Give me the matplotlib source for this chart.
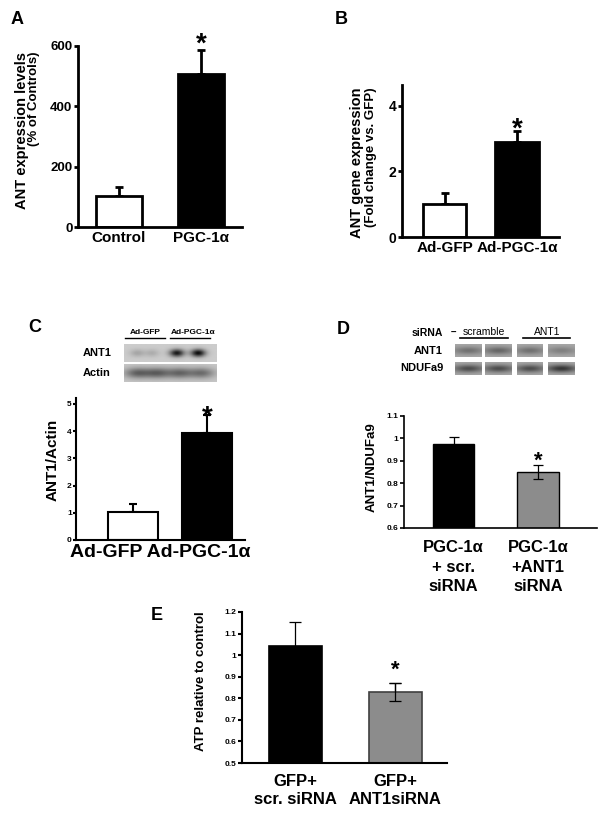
import numpy as np
import matplotlib
matplotlib.use('Agg')
import matplotlib.pyplot as plt

plt.rcParams['font.family'] = ['Liberation Sans', 'DejaVu Sans']
plt.rcParams['font.weight'] = 'bold'

W, H = 602, 816

# A: ANT expression, % of controls
a_cats = ['Control', 'PGC-1α']
a_vals = [103, 507]
a_err = [30, 80]

# B: ANT gene expression, fold change vs GFP
b_cats = ['Ad-GFP', 'Ad-PGC-1α']
b_vals = [1.01, 2.9]
b_err = [0.33, 0.34]

# C: ANT1/Actin densitometry
c_cats = ['Ad-GFP', 'Ad-PGC-1α']
c_vals = [1.03, 3.93]
c_err = [0.29, 0.67]
c_ant1_bands = [0.15, 0.12, 0.70, 0.75]
c_actin_bands = [0.38, 0.38, 0.36, 0.34]

# D: ANT1/NDUFa9 after siRNA
d_cats = ['PGC-1α\n+ scr.\nsiRNA', 'PGC-1α\n+ANT1\nsiRNA']
d_vals = [0.975, 0.85]
d_err = [0.031, 0.031]
d_ant1_bands = [0.22, 0.26, 0.22, 0.16]
d_ndufa9_bands = [0.36, 0.36, 0.36, 0.45]

# E: ATP relative to control
e_cats = ['GFP+\nscr. siRNA', 'GFP+\nANT1siRNA']
e_vals = [1.042, 0.829]
e_err = [0.11, 0.042]

fig = plt.figure(figsize=(W / 100, H / 100), dpi=100)


def px_axes(x0, y0, x1, y1):
    return fig.add_axes([x0 / W, 1 - y1 / H, (x1 - x0) / W, (y1 - y0) / H])


def style(ax, lw, ylim, yticks, tfs, tlen, xfs, xlim, cats, ytl=None, xpad=3, ls=1.25):
    ax.set_xlim(*xlim)
    ax.set_ylim(*ylim)
    for s in ['top', 'right']:
        ax.spines[s].set_visible(False)
    for s in ['left', 'bottom']:
        ax.spines[s].set_linewidth(lw)
    ax.set_yticks(yticks)
    if ytl is not None:
        ax.set_yticklabels(ytl)
    ax.tick_params(axis='y', length=tlen, width=lw, labelsize=tfs, pad=1)
    ax.set_xticks(range(len(cats)))
    ax.set_xticklabels(cats, fontsize=xfs, fontweight='bold', linespacing=ls)
    ax.tick_params(axis='x', length=0, pad=xpad)
    ax.patch.set_alpha(0)


# ---- A
axA = px_axes(78, 46, 242, 227)
axA.bar(range(2), a_vals, width=0.57, color=['white', 'black'], edgecolor='black', linewidth=2, zorder=2)
axA.errorbar(range(2), a_vals, yerr=[[0, 0], a_err], fmt='none', ecolor='black', elinewidth=2, capsize=3, capthick=2, zorder=1)
style(axA, 2, (0, 600), [0, 200, 400, 600], 9.5, 3, 11, (-0.5, 1.5), a_cats)
axA.annotate('*', (1, a_vals[1] + a_err[1]), xytext=(0, -1), textcoords='offset points',
             ha='center', va='baseline', fontsize=20, annotation_clip=False)

# ---- B
axB = px_axes(402, 85, 559, 237)
axB.bar(range(2), b_vals, width=0.6, color=['white', 'black'], edgecolor='black', linewidth=2, zorder=2)
axB.errorbar(range(2), b_vals, yerr=[[0, 0], b_err], fmt='none', ecolor='black', elinewidth=2, capsize=3, capthick=2, zorder=1)
style(axB, 2, (0, 4.64), [0, 2, 4], 10, 3, 11, (-0.59, 1.58), b_cats)
axB.annotate('*', (1, b_vals[1] + b_err[1]), xytext=(0, -4), textcoords='offset points',
             ha='center', va='baseline', fontsize=20, annotation_clip=False)

# ---- C
axC = px_axes(76, 398, 245, 540)
axC.bar(range(2), c_vals, width=0.68, color=['white', 'black'], edgecolor='black', linewidth=1.5, zorder=2)
axC.errorbar(range(2), c_vals, yerr=[[0, 0], c_err], fmt='none', ecolor='black', elinewidth=1.5, capsize=3, capthick=1.5, zorder=1)
style(axC, 1.5, (0, 5.22), [0, 1, 2, 3, 4, 5], 6, 2, 14, (-0.78, 1.52), ['', ''])
axC.set_xlabel(' '.join(c_cats), fontsize=14, fontweight='bold', labelpad=0)
axC.annotate('*', (1, c_vals[1] + c_err[1]), xytext=(0, -7), textcoords='offset points',
             ha='center', va='baseline', fontsize=20, annotation_clip=False)

# ---- D
axD = px_axes(404, 416, 597, 528)
axD.bar(range(2), d_vals, width=0.49, color=['black', '#8c8c8c'], edgecolor='black', linewidth=1, zorder=2)
axD.errorbar(range(2), d_vals, yerr=d_err, fmt='none', ecolor='black', elinewidth=0.9, capsize=3.5, capthick=0.9, zorder=3)
style(axD, 1.2, (0.6, 1.1), [0.6, 0.7, 0.8, 0.9, 1.0, 1.1], 6, 3, 12, (-0.59, 1.70), d_cats,
      ytl=['0.6', '0.7', '0.8', '0.9', '1', '1.1'], xpad=9, ls=1.35)
axD.annotate('*', (1, d_vals[1] + d_err[1]), xytext=(0, -1), textcoords='offset points',
             ha='center', va='baseline', fontsize=16, annotation_clip=False)

# ---- E
axE = px_axes(242, 612, 447, 763)
axE.bar(range(2), e_vals, width=0.53, color=['black', '#8c8c8c'], edgecolor=['black', '#404040'], linewidth=1.2, zorder=2)
axE.errorbar(range(2), e_vals, yerr=e_err, fmt='none', ecolor='black', elinewidth=0.9, capsize=4, capthick=0.9, zorder=1)
axE.errorbar([1], [e_vals[1]], yerr=[e_err[1]], fmt='none', ecolor='black', elinewidth=0.9, capsize=4, capthick=0.9, zorder=3)
style(axE, 1.5, (0.5, 1.2), [0.5, 0.6, 0.7, 0.8, 0.9, 1.0, 1.1, 1.2], 6, 3, 12, (-0.53, 1.52), e_cats,
      ytl=['0.5', '0.6', '0.7', '0.8', '0.9', '1', '1.1', '1.2'], xpad=8, ls=1.2)
axE.annotate('*', (1, e_vals[1] + e_err[1]), xytext=(0, 5), textcoords='offset points',
             ha='center', va='baseline', fontsize=16, annotation_clip=False)

# ---- overlay for panel letters, axis titles and blots
ov = fig.add_axes([0, 0, 1, 1])
ov.set_axis_off()


def blot(x0, x1, y0, y1, centers, strengths, bg, sx, sy):
    xs = np.linspace(0, 1, 120)
    ys = np.linspace(0, 1, 30)
    X, Y = np.meshgrid(xs, ys)
    img = np.full(X.shape, bg)
    for c, s in zip(centers, strengths):
        img -= s * np.exp(-((X - c) / sx) ** 2 - ((Y - 0.5) / sy) ** 2)
    ov.imshow(img, cmap='gray', vmin=0, vmax=1, extent=(x0, x1, y1, y0), aspect='auto', interpolation='bilinear')


# C blot
blot(124, 217, 344, 362, [0.14, 0.30, 0.57, 0.80], c_ant1_bands, 0.80, 0.08, 0.22)
blot(124, 217, 364, 382, [0.14, 0.36, 0.60, 0.84], c_actin_bands, 0.78, 0.14, 0.3)
# D blots, one box per lane
d_lanes = [(455, 482), (485, 512), (517, 543), (548, 575)]
for (x0, x1), s1, s2 in zip(d_lanes, d_ant1_bands, d_ndufa9_bands):
    blot(x0, x1, 344, 357, [0.5], [s1], 0.66, 0.6, 0.3)
    blot(x0, x1, 362, 375, [0.5], [s2], 0.66, 0.6, 0.3)

ov.set_xlim(0, W)
ov.set_ylim(H, 0)

letter = dict(fontsize=13, fontweight='bold', ha='center', va='center')
ov.text(17, 19, 'A', **letter)
ov.text(341, 19, 'B', **letter)
ov.text(35, 328, 'C', **letter)
ov.text(343, 329, 'D', **letter)
ov.text(157, 615, 'E', **letter)

rot = dict(rotation=90, fontweight='bold', ha='center', va='top')
ov.text(22, 52, 'ANT expression levels', fontsize=10.5, **rot)
ov.text(34, 52, '(% of Controls)', fontsize=9.5, **rot)
ov.text(357, 87, 'ANT gene expression', fontsize=10.5, **rot)
ov.text(371, 87, '(Fold change vs. GFP)', fontsize=9.5, **rot)
ov.text(53, 460, 'ANT1/Actin', fontsize=11, rotation=90, fontweight='bold', ha='center', va='center')
ov.text(372, 467, 'ANT1/NDUFa9', fontsize=9.5, rotation=90, fontweight='bold', ha='center', va='center')
ov.text(201, 681, 'ATP relative to control', fontsize=9.5, rotation=90, fontweight='bold', ha='center', va='center')

# C blot labels
small = dict(fontsize=6, fontweight='bold', ha='center', va='center')
ov.text(145, 332, 'Ad-GFP', **small)
ov.text(193, 332, 'Ad-PGC-1α', **small)
ov.plot([125, 165], [338, 338], color='black', lw=1)
ov.plot([170, 210], [338, 338], color='black', lw=1)
ov.text(97, 353, 'ANT1', fontsize=8, fontweight='bold', ha='center', va='center')
ov.text(97, 373, 'Actin', fontsize=8, fontweight='bold', ha='center', va='center')

# D blot labels
ov.text(427, 333, 'siRNA', fontsize=7.5, fontweight='bold', ha='center', va='center')
ov.text(453, 333, '–', fontsize=7, ha='center', va='center')
ov.text(484, 332, 'scramble', fontsize=7.5, fontweight='normal', ha='center', va='center')
ov.text(547, 332, 'ANT1', fontsize=7.5, fontweight='normal', ha='center', va='center')
ov.plot([460, 508], [338, 338], color='black', lw=1.2)
ov.plot([523, 570], [338, 338], color='black', lw=1.2)
ov.text(428, 351, 'ANT1', fontsize=8, fontweight='bold', ha='center', va='center')
ov.text(422, 368, 'NDUFa9', fontsize=8, fontweight='bold', ha='center', va='center')

fig.savefig('out.png', dpi=100)
